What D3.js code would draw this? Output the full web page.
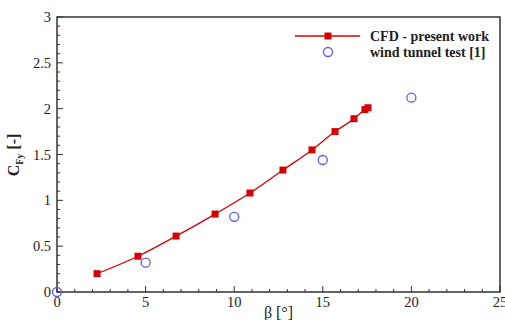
<!DOCTYPE html>
<html>
<head>
<meta charset="utf-8">
<script src="https://cdn.jsdelivr.net/npm/d3@7"></script>
<style>
  html, body { margin: 0; padding: 0; background: #fff; }
  svg { display: block; }
  text { font-family: "Liberation Serif", "DejaVu Serif", serif; fill: #222; }
</style>
</head>
<body>
<svg id="chart" width="505" height="320"></svg>
<script>
// CFD side-force coefficient against drift angle
const cfdBeta = [2.26, 4.57, 6.72, 8.92, 10.89, 12.75, 14.39, 15.69, 16.76, 17.38, 17.55];
const cfdCfy  = [0.20, 0.39, 0.61, 0.85, 1.08, 1.33, 1.55, 1.75, 1.89, 1.99, 2.01];

// Wind tunnel measurements
const expBeta = [0, 5, 10, 15, 20];
const expCfy  = [0, 0.32, 0.82, 1.44, 2.12];

const xTicks = [0, 5, 10, 15, 20, 25];
const yTicks = [0, 0.5, 1, 1.5, 2, 2.5, 3];
const legendLabels = ["CFD - present work", "wind tunnel test [1]"];

const svg = d3.select("#chart");
const plotL = 57, plotR = 500, plotT = 17, plotB = 292;

const x = d3.scaleLinear().domain([0, 25]).range([plotL, plotR]);
const y = d3.scaleLinear().domain([0, 3]).range([plotB, plotT]);

const red = "#d40000";
const blue = "#5a5aff";

// frame
svg.append("rect")
  .attr("x", plotL).attr("y", plotT)
  .attr("width", plotR - plotL).attr("height", plotB - plotT)
  .attr("fill", "none").attr("stroke", "#333").attr("stroke-width", 1.5);

// x axis: inward major/minor ticks
const xMinor = d3.range(0, 25.01, 1);
svg.append("g").selectAll("line").data(xMinor).join("line")
  .attr("x1", d => x(d)).attr("x2", d => x(d))
  .attr("y1", plotB).attr("y2", d => plotB - (d % 5 === 0 ? 6 : 3))
  .attr("stroke", "#333").attr("stroke-width", 1);
svg.append("g").selectAll("text").data(xTicks).join("text")
  .attr("x", d => x(d)).attr("y", plotB + 15)
  .attr("text-anchor", "middle").attr("font-size", 14.5)
  .text(d => d);

// y axis: inward major/minor ticks
const yMinor = d3.range(0, 30.01, 1).map(v => v / 10);
svg.append("g").selectAll("line").data(yMinor).join("line")
  .attr("x1", plotL).attr("x2", (d, i) => plotL + (i % 5 === 0 ? 6 : 3))
  .attr("y1", d => y(d)).attr("y2", d => y(d))
  .attr("stroke", "#333").attr("stroke-width", 1);
svg.append("g").selectAll("text").data(yTicks).join("text")
  .attr("x", plotL - 6).attr("y", d => y(d) + 5)
  .attr("text-anchor", "end").attr("font-size", 14.5)
  .text(d => d);

// axis titles
svg.append("text")
  .attr("x", x(12.5)).attr("y", 318)
  .attr("text-anchor", "middle").attr("font-size", 16)
  .text("β [°]");

const yt = svg.append("text")
  .attr("transform", "translate(19,155) rotate(-90)")
  .attr("text-anchor", "middle").attr("font-size", 16).attr("font-weight", "bold");
yt.append("tspan").text("C");
yt.append("tspan").attr("font-size", 10).attr("dy", 4).text("Fy");
yt.append("tspan").attr("dy", -4).text(" [-]");

// CFD curve
const cfd = cfdBeta.map((b, i) => [b, cfdCfy[i]]);
svg.append("path")
  .datum(cfd)
  .attr("fill", "none").attr("stroke", red).attr("stroke-width", 1.3)
  .attr("d", d3.line().x(d => x(d[0])).y(d => y(d[1])).curve(d3.curveMonotoneX));
svg.append("g").selectAll("rect").data(cfd).join("rect")
  .attr("x", d => x(d[0]) - 3.5).attr("y", d => y(d[1]) - 3.5)
  .attr("width", 7).attr("height", 7).attr("fill", red);

// experiment
const exp = expBeta.map((b, i) => [b, expCfy[i]]);
svg.append("g").selectAll("circle").data(exp).join("circle")
  .attr("cx", d => x(d[0])).attr("cy", d => y(d[1])).attr("r", 4.5)
  .attr("fill", "none").attr("stroke", blue).attr("stroke-width", 1.3);

// legend
const lg = svg.append("g");
lg.append("line").attr("x1", 295).attr("x2", 360).attr("y1", 36).attr("y2", 36)
  .attr("stroke", red).attr("stroke-width", 1.3);
lg.append("rect").attr("x", 328 - 3.5).attr("y", 36 - 3.5).attr("width", 7).attr("height", 7).attr("fill", red);
lg.append("circle").attr("cx", 328).attr("cy", 52).attr("r", 4.5)
  .attr("fill", "none").attr("stroke", blue).attr("stroke-width", 1.3);
lg.selectAll("text").data(legendLabels).join("text")
  .attr("x", 370).attr("y", (d, i) => 41 + i * 15.5)
  .attr("font-size", 14).attr("font-weight", "bold")
  .text(d => d);
</script>
</body>
</html>
